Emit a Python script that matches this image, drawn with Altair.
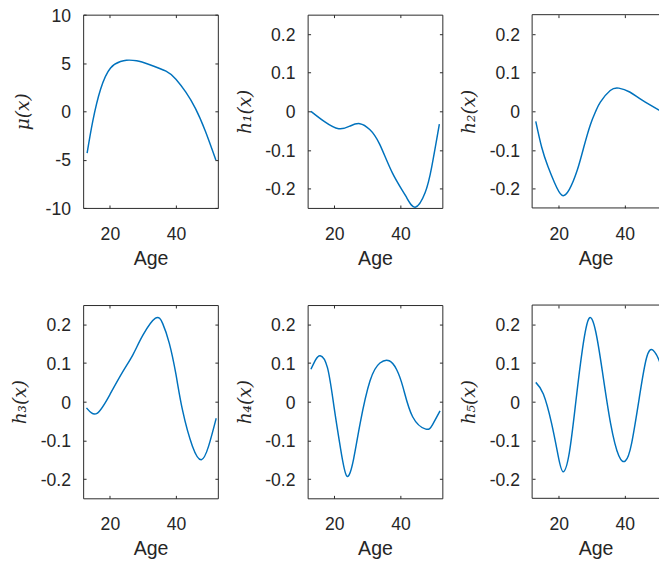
import altair as alt
import pandas as pd

BLUE = "#0072BD"
AX = "#262626"

# ---- data ----
age_mu = [13.1, 14.8, 17.2, 20.2, 23.2, 25.0, 28.1, 32.1, 37.0, 40.0, 43.0, 45.9, 48.9, 52.1]
mu = [-4.32, -1.04, 2.31, 4.49, 5.16, 5.29, 5.23, 4.82, 4.15, 3.32, 1.98, 0.30, -2.04, -5.05]

age_h1 = [12.9, 16.9, 21.3, 24.8, 27.7, 30.7, 33.7, 37.6, 41.6, 44.5, 47.5, 49.5, 51.8]
h1 = [0.0, -0.026, -0.045, -0.038, -0.032, -0.047, -0.085, -0.16, -0.219, -0.248, -0.21, -0.143, -0.033]

age_h2 = [13.0, 14.8, 16.7, 18.7, 20.9, 23.2, 25.6, 27.5, 29.6, 31.2, 32.6, 35.6, 38.2, 41.5, 45.4, 50.4, 52.0]
h2 = [-0.026, -0.093, -0.143, -0.185, -0.217, -0.202, -0.152, -0.095, -0.034, 0.0, 0.024, 0.054, 0.06, 0.05, 0.028, 0.003, -0.005]

age_h3 = [12.9, 16.1, 20.1, 24.0, 27.0, 30.0, 33.8, 36.0, 38.0, 40.0, 42.0, 45.0, 47.7, 49.9, 52.2]
h3 = [-0.016, -0.03, 0.02, 0.079, 0.122, 0.172, 0.216, 0.202, 0.151, 0.071, -0.022, -0.115, -0.15, -0.115, -0.043]

age_h4 = [12.9, 14.3, 15.7, 17.9, 19.9, 21.9, 23.8, 25.8, 27.8, 30.8, 33.8, 36.6, 38.8, 40.8, 43.7, 47.7, 49.7, 52.0]
h4 = [0.084, 0.108, 0.119, 0.088, -0.014, -0.123, -0.193, -0.149, -0.056, 0.054, 0.1, 0.106, 0.084, 0.037, -0.039, -0.071, -0.06, -0.024]

age_h5 = [13.0, 15.3, 17.8, 19.8, 21.3, 23.2, 25.2, 27.2, 29.2, 31.2, 33.2, 35.7, 38.2, 40.2, 42.1, 44.6, 46.6, 48.6, 50.9, 52.0]
h5 = [0.05, 0.02, -0.056, -0.14, -0.181, -0.131, 0.003, 0.138, 0.216, 0.181, 0.079, -0.056, -0.14, -0.153, -0.107, 0.02, 0.113, 0.133, 0.096, 0.06]

x_ticks = [20, 40]
mu_ticks = [-10, -5, 0, 5, 10]
h_ticks = [-0.2, -0.1, 0, 0.1, 0.2]
mu_domain = [-10, 10]
h_domain = [-0.25, 0.25]
x_domain_full = [11.9, 52.7]
x_domain_crop = [11.9, 50.4]

W_FULL = 138
W_CROP = 130
H = 198
TICK = 3

LABEL_FONT = "Liberation Sans"
TITLE_FONT_Y = "DejaVu Serif"


def panel(ages, vals, ydom, yticks, ytitle, cropped, title_pad):
    df = pd.DataFrame({"age": ages, "val": vals})
    xdom = x_domain_crop if cropped else x_domain_full
    width = W_CROP if cropped else W_FULL
    xs = alt.Scale(domain=xdom, nice=False, zero=False)
    ys = alt.Scale(domain=ydom, nice=False, zero=False)
    label_expr = "'' + datum.value"
    line = alt.Chart(df).mark_line(
        color=BLUE, strokeWidth=1.5, interpolate="natural", clip=True
    ).encode(
        x=alt.X("age:Q", scale=xs, axis=alt.Axis(
            orient="bottom", values=x_ticks, title="Age", offset=-TICK, tickSize=TICK,
            domain=False, grid=False, labelPadding=18, titlePadding=6,
            labelFont=LABEL_FONT, labelFontSize=18, labelColor=AX, tickColor=AX,
            titleFont=LABEL_FONT, titleFontSize=20, titleFontWeight="normal", titleColor=AX,
            labelExpr=label_expr)),
        y=alt.Y("val:Q", scale=ys, axis=alt.Axis(
            orient="left", values=yticks, title=ytitle, offset=-TICK, tickSize=TICK,
            domain=False, grid=False, labelPadding=13, labelOffset=1.5, titlePadding=title_pad,
            labelFont=LABEL_FONT, labelFontSize=18, labelColor=AX, tickColor=AX,
            titleFont=TITLE_FONT_Y, titleFontSize=19, titleFontStyle="italic",
            titleFontWeight="normal", titleColor=AX, labelExpr=label_expr)),
    )
    if cropped:
        y_mirror = alt.Y("val:Q", scale=ys, axis=None)
    else:
        y_mirror = alt.Y("val:Q", scale=ys, axis=alt.Axis(
            orient="right", values=yticks, title="", offset=-TICK, tickSize=TICK,
            domain=False, grid=False, labels=False, tickColor=AX))
    mirror = alt.Chart(df).mark_line(opacity=0, clip=True).encode(
        x=alt.X("age:Q", scale=xs, axis=alt.Axis(
            orient="top", values=x_ticks, title="", offset=-TICK, tickSize=TICK,
            domain=False, grid=False, labels=False, tickColor=AX)),
        y=y_mirror,
    )
    layers = [line, mirror]
    if cropped:
        one = alt.Data(values=[{"k": 1}])
        left = alt.Chart(one).mark_rule(color=AX, strokeWidth=1).encode(
            x=alt.value(0), y=alt.value(0), y2=alt.value(H))
        top = alt.Chart(one).mark_rule(color=AX, strokeWidth=1).encode(
            x=alt.value(0), x2=alt.value(width), y=alt.value(0))
        bottom = alt.Chart(one).mark_rule(color=AX, strokeWidth=1).encode(
            x=alt.value(0), x2=alt.value(width), y=alt.value(H))
        layers += [left, top, bottom]
    ch = alt.layer(*layers).resolve_axis(x="independent", y="independent")
    if cropped:
        ch = ch.properties(width=width, height=H, view=alt.ViewBackground(stroke="transparent"))
    else:
        ch = ch.properties(width=width, height=H)
    return ch


p1 = panel(age_mu, mu, mu_domain, mu_ticks, "μ(x)", False, 12.5)
p2 = panel(age_h1, h1, h_domain, h_ticks, "h₁(x)", False, 11)
p3 = panel(age_h2, h2, h_domain, h_ticks, "h₂(x)", True, 11)
p4 = panel(age_h3, h3, h_domain, h_ticks, "h₃(x)", False, 11)
p5 = panel(age_h4, h4, h_domain, h_ticks, "h₄(x)", False, 11)
p6 = panel(age_h5, h5, h_domain, h_ticks, "h₅(x)", True, 11)

row1 = alt.hconcat(p1, p2, p3, spacing=92, bounds="flush")
row2 = alt.hconcat(p4, p5, p6, spacing=92, bounds="flush")

chart = alt.vconcat(row1, row2, spacing=35.5).properties(
    padding={"left": 2, "top": -8, "right": 0, "bottom": 0}
).configure_view(stroke=AX, strokeWidth=1)

chart.save("out.html", embed_options={"renderer": "svg", "actions": False})
